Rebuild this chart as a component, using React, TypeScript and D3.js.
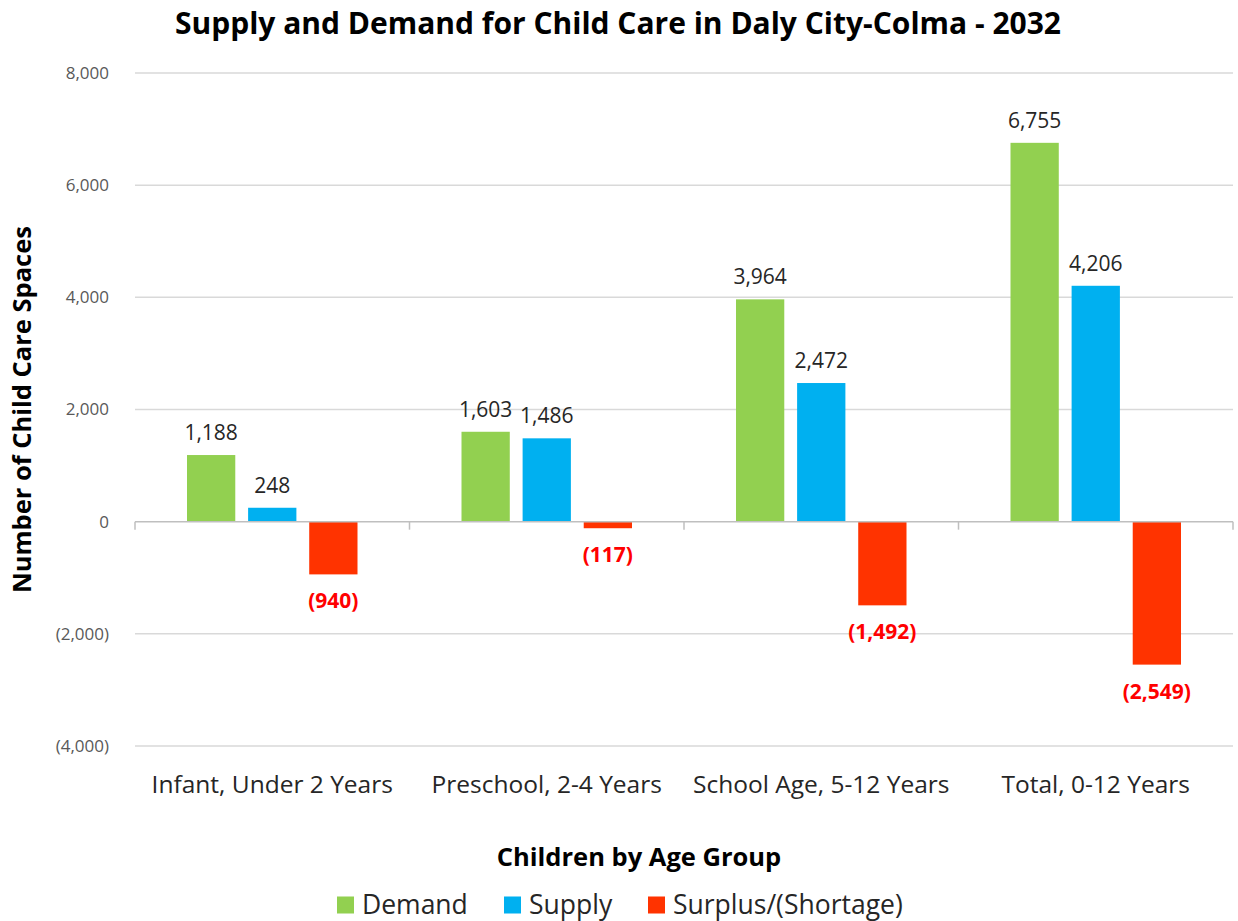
import React from 'react';
import * as d3 from 'd3';

const categories = ['Infant, Under 2 Years', 'Preschool, 2-4 Years', 'School Age, 5-12 Years', 'Total, 0-12 Years'];
const seriesNames = ['Demand', 'Supply', 'Surplus/(Shortage)'];
const demand = [1188, 1603, 3964, 6755];
const supply = [248, 1486, 2472, 4206];
const surplus = [-940, -117, -1492, -2549];
const yTicks = [-4000, -2000, 0, 2000, 4000, 6000, 8000];
const colors = ['#92D050', '#00B0F0', '#FF3300'];

const W = 1238, H = 921;
const FONT = '"Open Sans", Lato, sans-serif';

const fmtNum = d3.format(',');
const fmt = (v: number) => (v < 0 ? `(${fmtNum(-v)})` : fmtNum(v));

export default function App() {
  const left = 135, right = 1233;
  const y = d3.scaleLinear().domain([-4000, 8000]).range([746, 73]);
  const x0 = d3.scaleBand<string>().domain(categories).range([left, right]);
  const x1 = d3.scaleBand<string>().domain(seriesNames).range([52, 222.5]).paddingInner(0.21);
  const values = [demand, supply, surplus];
  const legendX = [337, 504, 648];

  return (
    <div style={{ position: 'absolute', left: 0, top: 0 }}>
      <svg width={W} height={H} style={{ display: 'block', background: '#fff' }} fontFamily={FONT}>
        <text x={618} y={34} textAnchor="middle" fontSize={30} fontWeight={700} fill="#000">
          Supply and Demand for Child Care in Daly City-Colma - 2032
        </text>

        {yTicks.map(t => (
          <g key={t}>
            {t !== 0 && (
              <line x1={left} x2={right} y1={y(t)} y2={y(t)} stroke="#D9D9D9" strokeWidth={1.5} />
            )}
            <text x={109} y={y(t)} dy="0.35em" textAnchor="end" fontSize={17} fill="#595959">
              {fmt(t)}
            </text>
          </g>
        ))}

        {values.map((vals, si) =>
          categories.map((c, ci) => {
            const v = vals[ci];
            const bx = (x0(c) as number) + (x1(seriesNames[si]) as number);
            const bw = x1.bandwidth();
            const top = Math.min(y(v), y(0));
            const h = Math.abs(y(v) - y(0));
            return (
              <g key={`${si}-${ci}`}>
                <rect x={bx} y={top} width={bw} height={h} fill={colors[si]} />
                {v >= 0 ? (
                  <text x={bx + bw / 2} y={y(v) - 15} textAnchor="middle" fontSize={21} fill="#262626">
                    {fmt(v)}
                  </text>
                ) : (
                  <text x={bx + bw / 2} y={y(v) + 34} textAnchor="middle" fontSize={21} fontWeight={700} fill="#FF0000">
                    {fmt(v)}
                  </text>
                )}
              </g>
            );
          })
        )}

        <line x1={left} x2={right} y1={y(0)} y2={y(0)} stroke="#BFBFBF" strokeWidth={1.5} />
        {[...categories.map(c => x0(c) as number), right].map((bx, i) => (
          <line key={i} x1={bx} x2={bx} y1={y(0)} y2={y(0) + 8} stroke="#BFBFBF" strokeWidth={1.5} />
        ))}

        {categories.map(c => (
          <text key={c} x={(x0(c) as number) + x0.bandwidth() / 2} y={793} textAnchor="middle" fontSize={24.5} fill="#262626">
            {c}
          </text>
        ))}

        <text transform={`translate(31,${y(2000)}) rotate(-90)`} textAnchor="middle" fontSize={25.5} fontWeight={700} fill="#000">
          Number of Child Care Spaces
        </text>

        <text x={639} y={866} textAnchor="middle" fontSize={25.5} fontWeight={700} fill="#000">
          Children by Age Group
        </text>

        {seriesNames.map((s, i) => (
          <g key={s} transform={`translate(${legendX[i]},905)`}>
            <rect x={0} y={-8.5} width={17} height={17} fill={colors[i]} />
            <text x={25} y={0} dy="0.35em" fontSize={26.5} fill="#262626">{s}</text>
          </g>
        ))}
      </svg>
    </div>
  );
}
